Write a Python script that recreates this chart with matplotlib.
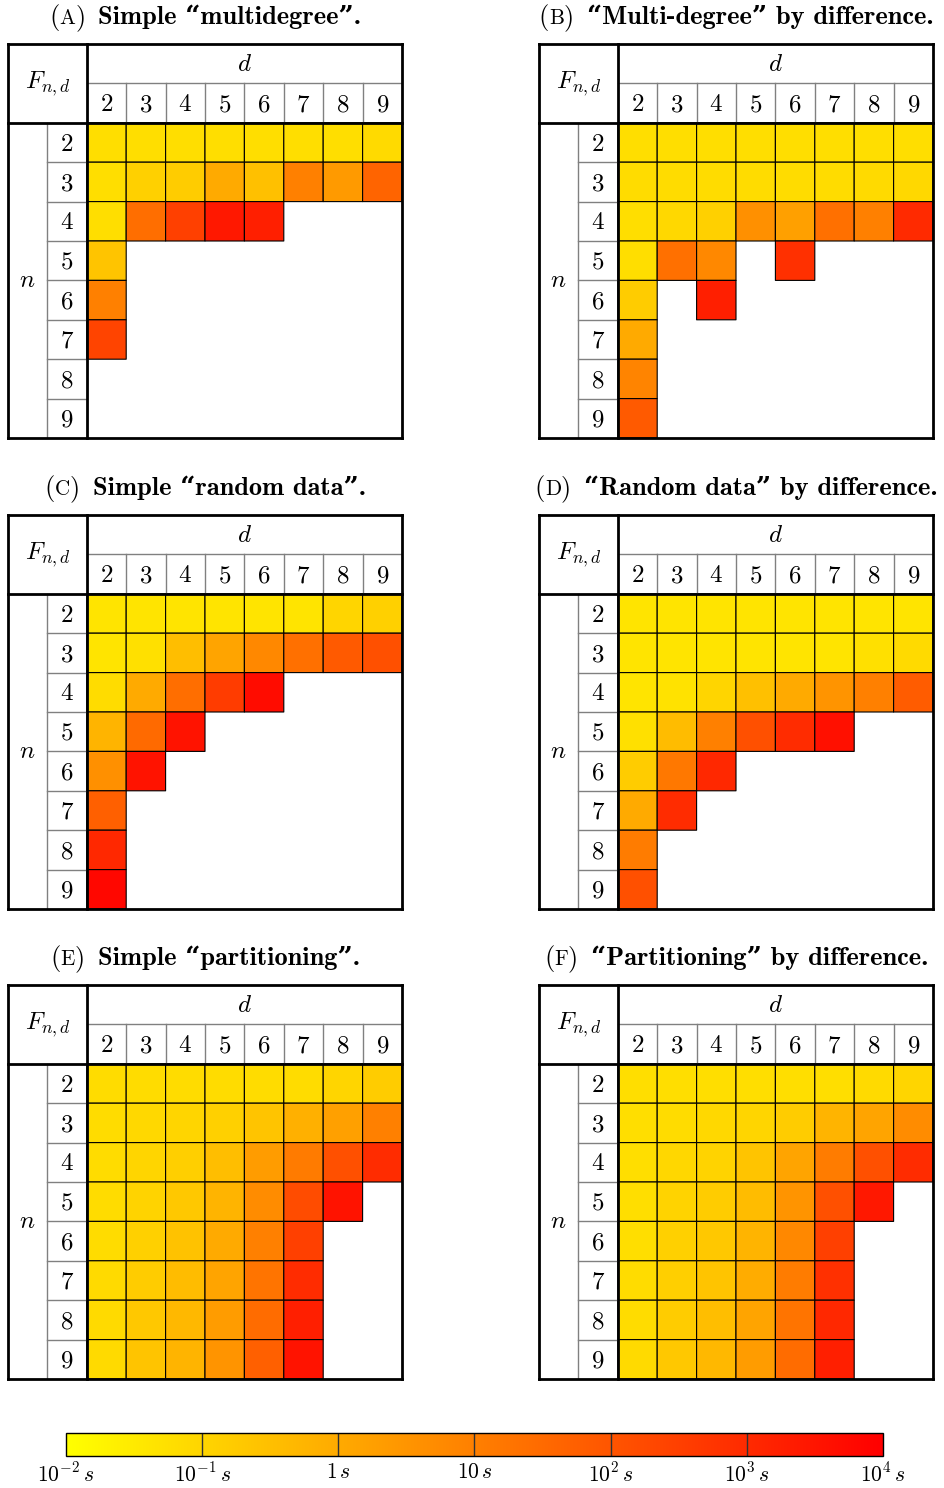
import numpy as np
import matplotlib
matplotlib.use('Agg')
import matplotlib.pyplot as plt
from matplotlib.colors import LinearSegmentedColormap, LogNorm
from matplotlib.cm import ScalarMappable
from matplotlib.offsetbox import TextArea, HPacker, AnnotationBbox

plt.rcParams['mathtext.fontset'] = 'cm'

# timings in seconds, rows n = 2..9, columns d = 2..9 (None = not computed)
n_values = [2, 3, 4, 5, 6, 7, 8, 9]
d_values = [2, 3, 4, 5, 6, 7, 8, 9]
N = None

multideg_simple = [
    [0.06, 0.06, 0.06, 0.06, 0.06, 0.06, 0.06, 0.074],
    [0.06, 0.13, 0.16, 1.0, 0.30, 9.7, 2.4, 45],
    [0.06, 26, 310, 2700, 1800, N, N, N],
    [0.25, N, N, N, N, N, N, N],
    [9.7, N, N, N, N, N, N, N],
    [250, N, N, N, N, N, N, N],
    [N, N, N, N, N, N, N, N],
    [N, N, N, N, N, N, N, N],
]
multideg_diff = [
    [0.06, 0.06, 0.06, 0.06, 0.06, 0.06, 0.06, 0.06],
    [0.067, 0.067, 0.067, 0.067, 0.067, 0.067, 0.074, 0.083],
    [0.06, 0.083, 0.13, 4.1, 1.7, 23, 9.7, 1000],
    [0.06, 23, 6.3, N, 740, N, N, N],
    [0.16, N, 1800, N, N, N, N, N],
    [1.0, N, N, N, N, N, N, N],
    [7.8, N, N, N, N, N, N, N],
    [76, N, N, N, N, N, N, N],
]
random_simple = [
    [0.043, 0.043, 0.043, 0.043, 0.043, 0.043, 0.10, 0.13],
    [0.043, 0.054, 0.34, 1.4, 6.3, 23, 76, 130],
    [0.067, 1.0, 26, 390, 5200, N, N, N],
    [0.58, 32, 3400, N, N, N, N, N],
    [4.1, 3400, N, N, N, N, N, N],
    [55, N, N, N, N, N, N, N],
    [1150, N, N, N, N, N, N, N],
    [6500, N, N, N, N, N, N, N],
]
random_diff = [
    [0.043, 0.043, 0.043, 0.043, 0.043, 0.043, 0.043, 0.043],
    [0.043, 0.043, 0.043, 0.043, 0.043, 0.043, 0.054, 0.074],
    [0.043, 0.048, 0.10, 0.30, 1.0, 3.3, 9.7, 68],
    [0.054, 0.38, 9.7, 130, 920, 4200, N, N],
    [0.16, 15, 1150, N, N, N, N, N],
    [1.0, 920, N, N, N, N, N, N],
    [12, N, N, N, N, N, N, N],
    [130, N, N, N, N, N, N, N],
]
part_simple = [
    [0.067, 0.067, 0.067, 0.067, 0.067, 0.067, 0.10, 0.16],
    [0.067, 0.083, 0.10, 0.13, 0.25, 0.72, 1.7, 9.7],
    [0.067, 0.10, 0.14, 0.34, 2.1, 13, 130, 920],
    [0.067, 0.11, 0.20, 0.58, 5.1, 160, 3400, N],
    [0.067, 0.13, 0.27, 1.0, 9.7, 310, N, N],
    [0.074, 0.16, 0.38, 1.4, 19, 920, N, N],
    [0.074, 0.20, 0.47, 2.1, 29, 1800, N, N],
    [0.074, 0.25, 0.58, 3.3, 55, 3400, N, N],
]
part_diff = [
    [0.06, 0.06, 0.06, 0.06, 0.06, 0.06, 0.074, 0.10],
    [0.06, 0.067, 0.083, 0.10, 0.16, 0.58, 1.4, 5.1],
    [0.06, 0.09, 0.11, 0.25, 1.4, 12, 130, 920],
    [0.06, 0.11, 0.16, 0.38, 3.3, 130, 2700, N],
    [0.06, 0.13, 0.20, 0.58, 6.3, 310, N, N],
    [0.067, 0.14, 0.25, 0.9, 12, 740, N, N],
    [0.067, 0.16, 0.34, 1.4, 19, 1150, N, N],
    [0.074, 0.20, 0.47, 2.1, 29, 1800, N, N],
]

panels = [
    ("A", "Simple \u201cmultidegree\u201d.", multideg_simple),
    ("B", "\u201cMulti-degree\u201d by difference.", multideg_diff),
    ("C", "Simple \u201crandom data\u201d.", random_simple),
    ("D", "\u201cRandom data\u201d by difference.", random_diff),
    ("E", "Simple \u201cpartitioning\u201d.", part_simple),
    ("F", "\u201cPartitioning\u201d by difference.", part_diff),
]

cbar_ticks = [1e-2, 1e-1, 1, 10, 1e2, 1e3, 1e4]
cbar_labels = [r'$10^{-2}\,s$', r'$10^{-1}\,s$', r'$1\,s$', r'$10\,s$',
               r'$10^{2}\,s$', r'$10^{3}\,s$', r'$10^{4}\,s$']

W, H = 945, 1488
fig = plt.figure(figsize=(W / 100, H / 100), dpi=100)
cmap = LinearSegmentedColormap.from_list('yellow_red', ['#ffff00', '#ff0000'])
norm = LogNorm(1e-2, 1e4)

FS = 18        # cell labels
TFS = 19       # panel titles
GRAY = '#808080'


def draw_panel(ax, letter, title, data):
    ax.set_xlim(0, 10)
    ax.set_ylim(10, 0)
    ax.axis('off')

    vals = np.ma.masked_invalid(np.array(data, dtype=float))
    edges = np.arange(2, 11)
    ax.pcolor(edges, edges, vals, cmap=cmap, norm=norm,
              edgecolors='black', linewidth=0.8)

    # thin gray separators
    ax.plot([2, 10], [1, 1], color=GRAY, lw=1)
    ax.plot([1, 1], [2, 10], color=GRAY, lw=1)
    for k in range(3, 10):
        ax.plot([k, k], [1, 2], color=GRAY, lw=1)
        ax.plot([1, 2], [k, k], color=GRAY, lw=1)

    # thick frame
    for xs, ys in [([0, 10], [0, 0]), ([0, 10], [10, 10]), ([0, 0], [0, 10]),
                   ([10, 10], [0, 10]), ([2, 2], [0, 10]), ([0, 10], [2, 2])]:
        ax.plot(xs, ys, color='black', lw=2, solid_capstyle='projecting',
                clip_on=False)

    for i, d in enumerate(d_values):
        ax.text(2.5 + i, 1.53, '$%d$' % d, ha='center', va='center', fontsize=FS)
    for i, n in enumerate(n_values):
        ax.text(1.5, 2.53 + i, '$%d$' % n, ha='center', va='center', fontsize=FS)
    ax.text(1, 1, r'$F_{n,d}$', ha='center', va='center', fontsize=FS)
    ax.text(6, 0.5, r'$d$', ha='center', va='center', fontsize=FS)
    ax.text(0.5, 6, r'$n$', ha='center', va='center', fontsize=FS)

    tag = HPacker(children=[
        TextArea('(', textprops=dict(fontfamily='cmr10', fontsize=TFS)),
        TextArea(letter, textprops=dict(fontfamily='cmr10', fontsize=TFS * 0.8)),
        TextArea(')', textprops=dict(fontfamily='cmr10', fontsize=TFS)),
    ], align='baseline', pad=0, sep=0)
    head = TextArea(title, textprops=dict(fontfamily=['cmb10', 'DejaVu Serif'],
                                          fontweight='bold', fontsize=TFS))
    box = HPacker(children=[tag, head], align='baseline', pad=0, sep=9)
    ab = AnnotationBbox(box, (5, -0.66), xycoords='data', frameon=False,
                        box_alignment=(0.5, 0.5), pad=0, annotation_clip=False)
    ax.add_artist(ab)


col_x = [8, 539]
row_y = [44, 515, 985]
size = 394
for idx, (letter, title, data) in enumerate(panels):
    x0 = col_x[idx % 2]
    y0 = row_y[idx // 2]
    ax = fig.add_axes([x0 / W, 1 - (y0 + size) / H, size / W, size / H])
    draw_panel(ax, letter, title, data)

cax = fig.add_axes([66 / W, 1 - 1456 / H, 817 / W, 23 / H])
cb = fig.colorbar(ScalarMappable(norm=norm, cmap=cmap), cax=cax,
                  orientation='horizontal')
cb.minorticks_off()
cb.set_ticks(cbar_ticks)
cb.set_ticklabels(cbar_labels)
cax.tick_params(length=0, pad=4, labelsize=15.5)
for v in cbar_ticks[1:-1]:
    cax.axvline(v, color='#333333', lw=1)
cb.outline.set_linewidth(1)

fig.savefig('out.png', dpi=100)
